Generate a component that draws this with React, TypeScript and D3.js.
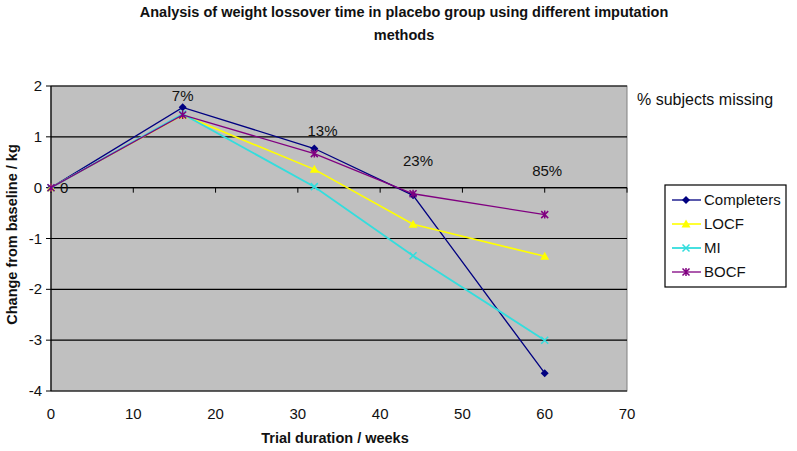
import React from "react";
import * as d3 from "d3";

const weeks = [0, 16, 32, 44, 60];
const completers = [0, 1.58, 0.77, -0.15, -3.65];
const locf = [0, 1.43, 0.36, -0.72, -1.35];
const mi = [0, 1.45, 0.02, -1.34, -3.0];
const bocf = [0, 1.43, 0.67, -0.12, -0.53];
const missingLabels = ["0", "7%", "13%", "23%", "85%"];
const missingLabelWeeks = [1.1, 16, 33, 44.6, 60.3];
const missingLabelValues = [0, 1.8, 1.12, 0.53, 0.33];
const xTicks = [0, 10, 20, 30, 40, 50, 60, 70];
const yTicks = [2, 1, 0, -1, -2, -3, -4];
const seriesNames = ["Completers", "LOCF", "MI", "BOCF"];

const W = 797, H = 451;
const left = 51, right = 627, top = 86, bottom = 391;

const FONT = "Liberation Sans, Arial, sans-serif";

function Marker({ kind, x, y, color }: { kind: string; x: number; y: number; color: string }) {
  if (kind === "diamond") {
    return <path d={`M${x},${y - 4}L${x + 4},${y}L${x},${y + 4}L${x - 4},${y}Z`} fill={color} />;
  }
  if (kind === "triangle") {
    return <path d={`M${x},${y - 4.5}L${x + 4.5},${y + 3.5}L${x - 4.5},${y + 3.5}Z`} fill={color} />;
  }
  if (kind === "x") {
    return (
      <path d={`M${x - 3.5},${y - 3.5}L${x + 3.5},${y + 3.5}M${x - 3.5},${y + 3.5}L${x + 3.5},${y - 3.5}`} stroke={color} strokeWidth={1.5} />
    );
  }
  return (
    <path
      d={`M${x - 3.5},${y - 3.5}L${x + 3.5},${y + 3.5}M${x - 3.5},${y + 3.5}L${x + 3.5},${y - 3.5}M${x},${y - 4}L${x},${y + 4}`}
      stroke={color}
      strokeWidth={1.5}
    />
  );
}

export default function App() {
  const x = d3.scaleLinear().domain([0, 70]).range([left, right]);
  const y = d3.scaleLinear().domain([-4, 2]).range([bottom, top]);
  const series = [
    { name: seriesNames[0], vals: completers, color: "#000080", kind: "diamond", w: 1.3 },
    { name: seriesNames[1], vals: locf, color: "#ffff00", kind: "triangle", w: 1.6 },
    { name: seriesNames[2], vals: mi, color: "#33dddd", kind: "x", w: 1.8 },
    { name: seriesNames[3], vals: bocf, color: "#800080", kind: "star", w: 1.3 },
  ];
  const line = d3
    .line<number>()
    .x((_, i) => x(weeks[i]))
    .y((d) => y(d));

  return (
    <svg width={W} height={H} style={{ position: "absolute", left: 0, top: 0, background: "#fff" }} fontFamily={FONT}>
      <rect x={0} y={0} width={W} height={H} fill="#fff" />
      {/* Title */}
      <text x={404} y={17} textAnchor="middle" fontSize={14.5} fontWeight="bold" fill="#111">
        Analysis of weight lossover time in placebo group using different imputation
      </text>
      <text x={404} y={40} textAnchor="middle" fontSize={14.5} fontWeight="bold" fill="#111">
        methods
      </text>
      {/* Plot area */}
      <rect x={left} y={top} width={right - left} height={bottom - top} fill="#c0c0c0" stroke="#808080" strokeWidth={1} />
      {yTicks.map((t) => (
        <line key={"g" + t} x1={left} x2={right} y1={y(t)} y2={y(t)} stroke="#000" strokeWidth={1.2} />
      ))}
      {/* Y axis */}
      <line x1={left} x2={left} y1={top} y2={bottom} stroke="#000" strokeWidth={1.2} />
      {yTicks.map((t) => (
        <g key={"yt" + t}>
          <line x1={left - 5} x2={left} y1={y(t)} y2={y(t)} stroke="#000" />
          <text x={left - 9} y={y(t) + 5} textAnchor="end" fontSize={15} fill="#111">
            {t}
          </text>
        </g>
      ))}
      {/* X axis at zero */}
      <line x1={left} x2={right} y1={y(0)} y2={y(0)} stroke="#000" strokeWidth={1.2} />
      {xTicks.map((t) => (
        <g key={"xt" + t}>
          <line x1={x(t)} x2={x(t)} y1={y(0)} y2={y(0) + 5} stroke="#000" />
          <text x={x(t)} y={bottom + 28} textAnchor="middle" fontSize={15} fill="#111">
            {t}
          </text>
        </g>
      ))}
      {/* Series */}
      {series.map((s) => (
        <g key={s.name}>
          <path d={line(s.vals) || ""} fill="none" stroke={s.color} strokeWidth={s.w} />
          {s.vals.map((v, i) => (
            <Marker key={i} kind={s.kind} x={x(weeks[i])} y={y(v)} color={s.color} />
          ))}
        </g>
      ))}
      {/* missing labels */}
      {missingLabels.map((l, i) => (
        <text
          key={"m" + i}
          x={x(missingLabelWeeks[i])}
          y={y(missingLabelValues[i]) + 5}
          textAnchor={i === 0 ? "start" : "middle"}
          fontSize={15}
          fill="#111"
        >
          {l}
        </text>
      ))}
      <text x={637} y={105} fontSize={16} fill="#111">
        % subjects missing
      </text>
      {/* Legend */}
      <rect x={665} y={185} width={121} height={102} fill="#fff" stroke="#000" strokeWidth={1.2} />
      {series.map((s, i) => {
        const ly = 200 + i * 24;
        return (
          <g key={"lg" + s.name}>
            <line x1={672} x2={701} y1={ly} y2={ly} stroke={s.color} strokeWidth={s.w} />
            <Marker kind={s.kind} x={686} y={ly} color={s.color} />
            <text x={704} y={ly + 5} fontSize={15} fill="#111">
              {s.name}
            </text>
          </g>
        );
      })}
      {/* Axis titles */}
      <text
        transform={`translate(17,${(top + bottom) / 2 - 4}) rotate(-90)`}
        textAnchor="middle"
        fontSize={14.5}
        fontWeight="bold"
        fill="#111"
      >
        Change from baseline / kg
      </text>
      <text x={335} y={443} textAnchor="middle" fontSize={14.5} fontWeight="bold" fill="#111">
        Trial duration / weeks
      </text>
    </svg>
  );
}
